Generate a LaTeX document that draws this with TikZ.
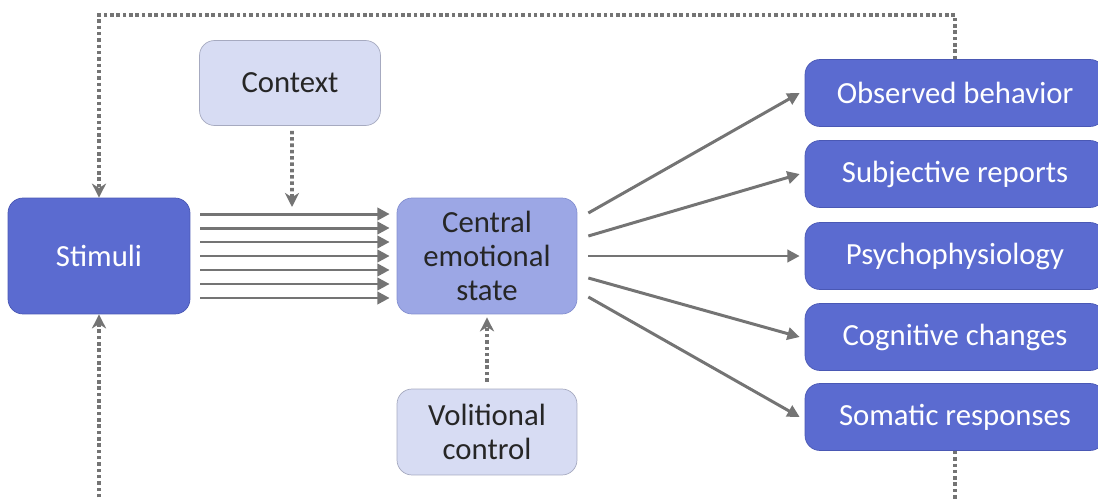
\documentclass[tikz,border=0pt]{standalone}
\usepackage{fontspec}
\setmainfont{Carlito}
\usetikzlibrary{arrows.meta}

\definecolor{deepblue}{HTML}{5B6BD0}
\definecolor{deepedge}{HTML}{4A58B4}
\definecolor{midblue}{HTML}{9CA7E5}
\definecolor{midedge}{HTML}{8490D0}
\definecolor{paleblue}{HTML}{D7DCF3}
\definecolor{paleedge}{HTML}{A6AAC0}
\definecolor{linkgray}{HTML}{747474}

\tikzset{%
    box/.style={%
        rounded corners=0.3cm, align=center, inner sep=2pt,
        font=\fontsize{17.5}{19.5}\selectfont
    },
    darkbox/.style={box, draw=deepedge, fill=deepblue, text=white},
    midbox/.style={box, draw=midedge, fill=midblue, text=black!85},
    palebox/.style={box, draw=paleedge, fill=paleblue, text=black!85},
    outbox/.style={darkbox, minimum width=6cm, minimum height=1.34cm},
    flow/.style={%
        draw=linkgray, line width=1.7pt,
        -{Triangle[length=7pt, width=7pt]}
    },
    ctrl/.style={%
        draw=linkgray, line width=2.2pt, dash pattern=on 2pt off 1.6pt,
        -{Stealth[length=8pt, width=8pt, inset=2.5pt]}
    }
}

\begin{document}
\begin{tikzpicture}[x=0.02cm, y=-0.02cm]

    \useasboundingbox (0, 0) rectangle (1098, 500);
    \clip (0, 0) rectangle (1098, 500);

    % Input side
    \node[darkbox, minimum width=3.64cm, minimum height=2.32cm]
        (stimuli) at (99, 256) {Stimuli};
    \node[palebox, minimum width=3.62cm, minimum height=1.7cm]
        (context) at (290, 83) {Context};

    % Core
    \node[midbox, minimum width=3.6cm, minimum height=2.32cm]
        (central) at (487, 256) {Central\\emotional\\state};
    \node[palebox, minimum width=3.6cm, minimum height=1.72cm]
        (volition) at (487, 432) {Volitional\\control};

    % Outputs
    \node[outbox] (observed)   at (955, 93)  {Observed behavior};
    \node[outbox] (subjective) at (955, 174) {Subjective reports};
    \node[outbox] (psycho)     at (955, 256) {Psychophysiology};
    \node[outbox] (cognitive)  at (955, 337) {Cognitive changes};
    \node[outbox] (somatic)    at (955, 417) {Somatic responses};

    %%% Links
    \foreach \k in {-3, ..., 3}{%
        \draw[flow]
            ([xshift=0.2cm, yshift=\k*0.28cm] stimuli.east) --
            ([xshift=-0.14cm, yshift=\k*0.28cm] central.west);
    };

    \foreach \target/\dy in {observed/0.86, subjective/0.4, psycho/0,
                             cognitive/-0.44, somatic/-0.82}{%
        \draw[flow]
            ([xshift=0.22cm, yshift=\dy cm] central.east) --
            ([xshift=-0.1cm] \target.west);
    };

    \coordinate (ctx-in) at (292, 207);
    \draw[ctrl] ([xshift=0.04cm, yshift=-0.1cm] context.south) -- (ctx-in);
    \draw[ctrl] ([yshift=0.14cm] volition.north)
        -- ([yshift=-0.06cm] central.south);

    % Feedback loop
    \coordinate (loop-top) at (99, 15);
    \coordinate (loop-bottom) at (955, 530);
    \draw[ctrl] (observed.north) |- (loop-top) -- (stimuli.north);
    \draw[ctrl] (somatic.south) -- (loop-bottom) -| (stimuli.south);

\end{tikzpicture}
\end{document}
